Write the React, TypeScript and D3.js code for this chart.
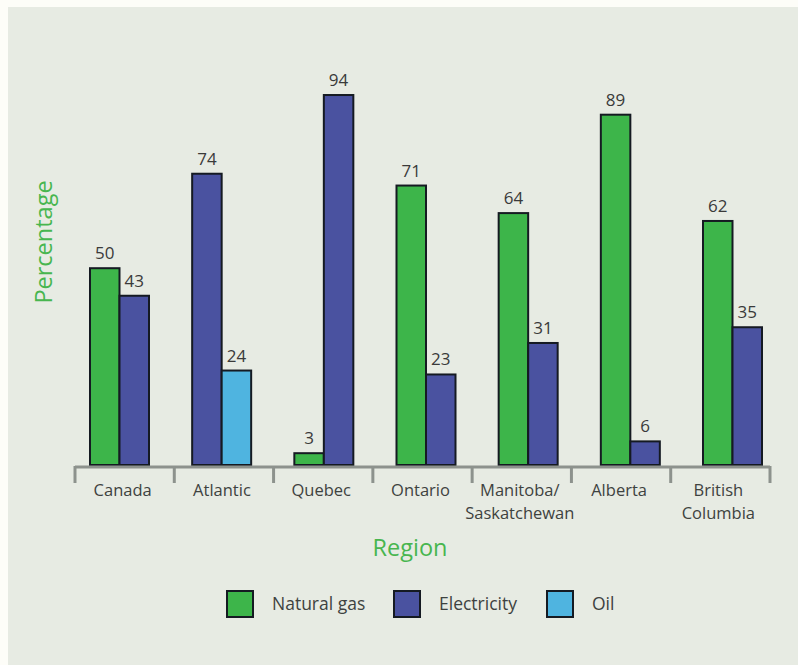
import React from "react";
import * as d3 from "d3";

const categories = ["Canada", "Atlantic", "Quebec", "Ontario", "Manitoba/\nSaskatchewan", "Alberta", "British\nColumbia"];
const naturalGas: (number | null)[] = [50, null, 3, 71, 64, 89, 62];
const electricity: (number | null)[] = [43, 74, 94, 23, 31, 6, 35];
const oil: (number | null)[] = [null, 24, null, null, null, null, null];

const seriesNames = ["Natural gas", "Electricity", "Oil"];
const seriesColors = ["#3db54a", "#4a52a0", "#4fb4e0"];

const W = 798;
const H = 665;
const FONT = "'Open Sans', 'Liberation Sans', sans-serif";

export default function App() {
  const baseY = 465;
  const y = d3.scaleLinear().domain([0, 100]).range([baseY, baseY - 393.6]);
  // axis bands (tick separators)
  const axisX = d3.scaleBand().domain(categories).range([75, 770]).paddingInner(0).paddingOuter(0);
  // bar group centers
  const groupX = d3.scalePoint().domain(categories).range([119.5, 732.5]);
  const barW = 29.5;

  const series = [naturalGas, electricity, oil];

  const bars: JSX.Element[] = [];
  const labels: JSX.Element[] = [];
  categories.forEach((c, i) => {
    const present = series
      .map((s, k) => ({ v: s[i], k }))
      .filter((d) => d.v !== null) as { v: number; k: number }[];
    const cx = groupX(c)!;
    const start = cx - (present.length * barW) / 2;
    present.forEach((d, j) => {
      const x0 = start + j * barW;
      bars.push(
        <rect
          key={`${c}-${d.k}`}
          x={x0}
          y={y(d.v)}
          width={barW}
          height={baseY - y(d.v)}
          fill={seriesColors[d.k]}
          stroke="#151a22"
          strokeWidth={2}
        />
      );
      labels.push(
        <text
          key={`l-${c}-${d.k}`}
          x={x0 + barW / 2}
          y={y(d.v) - 9}
          textAnchor="middle"
          fontSize={17}
          fill="#3a3a3a"
          fontFamily={FONT}
        >
          {d.v}
        </text>
      );
    });
  });

  const tickXs = [...categories.map((c) => axisX(c)!), 770];

  return (
    <svg
      width={W}
      height={H}
      style={{ position: "absolute", left: 0, top: 0 }}
      viewBox={`0 0 ${W} ${H}`}
    >
      <rect x={0} y={0} width={W} height={H} fill="#fdfdf8" />
      <rect x={8} y={7} width={W - 8} height={H - 7} fill="#e7ebe3" />

      {bars}
      {labels}

      {/* category axis */}
      <line x1={75} x2={770} y1={467} y2={467} stroke="#8d928d" strokeWidth={3} />
      {tickXs.map((tx, i) => (
        <line key={i} x1={tx} x2={tx} y1={466} y2={483} stroke="#8d928d" strokeWidth={3} />
      ))}
      {categories.map((c) => {
        const lines = c.split("\n");
        const cx = axisX(c)! + axisX.bandwidth() / 2 - 2;
        return (
          <g key={c}>
            {lines.map((ln, k) => (
              <text
                key={k}
                x={cx}
                y={496 + k * 23}
                textAnchor="middle"
                fontSize={16.5}
                fill="#3e4240"
                fontFamily={FONT}
              >
                {ln}
              </text>
            ))}
          </g>
        );
      })}

      {/* axis titles */}
      <text
        transform="translate(52,242) rotate(-90)"
        textAnchor="middle"
        fontSize={23.5}
        fill="#48b64f"
        fontFamily={FONT}
      >
        Percentage
      </text>
      <text x={410} y={556} textAnchor="middle" fontSize={23.5} fill="#48b64f" fontFamily={FONT}>
        Region
      </text>

      {/* legend */}
      {seriesNames.map((n, i) => {
        const lx = [227, 394, 547][i];
        return (
          <g key={n}>
            <rect x={lx} y={591} width={26} height={26} fill={seriesColors[i]} stroke="#151a22" strokeWidth={2} />
            <text x={lx + 45} y={610} fontSize={17.5} fill="#3e4240" fontFamily={FONT}>
              {n}
            </text>
          </g>
        );
      })}
    </svg>
  );
}
